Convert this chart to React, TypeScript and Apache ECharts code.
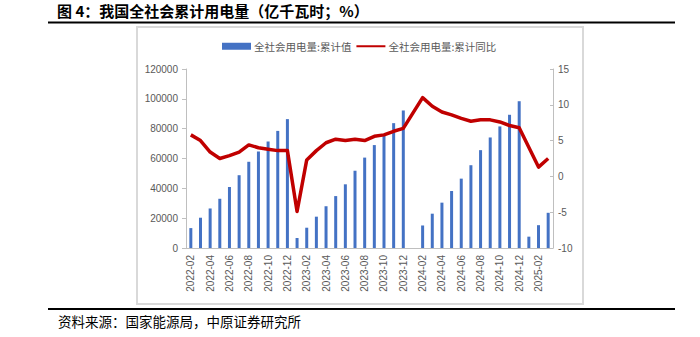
import React, { useEffect, useRef } from "react";
import * as echarts from "echarts";

const months = [
  "2022-02", "2022-03", "2022-04", "2022-05", "2022-06", "2022-07", "2022-08", "2022-09", "2022-10", "2022-11", "2022-12",
  "2023-01", "2023-02", "2023-03", "2023-04", "2023-05", "2023-06", "2023-07", "2023-08", "2023-09", "2023-10", "2023-11", "2023-12",
  "2024-01", "2024-02", "2024-03", "2024-04", "2024-05", "2024-06", "2024-07", "2024-08", "2024-09", "2024-10", "2024-11", "2024-12",
  "2025-01", "2025-02", "2025-03",
];

// 全社会用电量:累计值 (亿千瓦时)
const cumulativeValue: (number | null)[] = [
  13346, 20300, 26500, 33000, 40900, 48800, 57800, 64700, 71400, 78500, 86400,
  6700, 13600, 21000, 28000, 34800, 42700, 51800, 60600, 69000, 75700, 83700, 92200,
  null, 15100, 23000, 30400, 38200, 46500, 55500, 65600, 74100, 81500, 89300, 98400,
  7600, 15300, 23600,
];

// 全社会用电量:累计同比 (%)
const cumulativeYoY: (number | null)[] = [
  5.8, 5.0, 3.4, 2.5, 2.9, 3.4, 4.4, 4.0, 3.8, 3.6, 3.6,
  -4.9, 2.3, 3.6, 4.7, 5.2, 5.0, 5.2, 5.0, 5.6, 5.8, 6.3, 6.7,
  null, 11.0, 9.8, 9.0, 8.6, 8.1, 7.7, 7.9, 7.9, 7.6, 7.1, 6.8,
  null, 1.3, 2.5,
];

const leftAxis = { min: 0, max: 120000, interval: 20000 };
const rightAxis = { min: -10, max: 15, interval: 5 };

const titleText = "图 4：我国全社会累计用电量（亿千瓦时；%）";
const sourceText = "资料来源：国家能源局，中原证券研究所";
const seriesNames = ["全社会用电量:累计值", "全社会用电量:累计同比"];

export default function App() {
  const ref = useRef<HTMLDivElement>(null);
  useEffect(() => {
    if (!ref.current) return;
    const chart = echarts.init(ref.current, null, { renderer: "svg" });
    const axisColor = "#bfbfbf";
    const labelColor = "#595959";
    const cjk = "'Noto Sans CJK SC', 'Noto Sans', sans-serif";
    const num = "'Liberation Sans', Arial, sans-serif";
    chart.setOption({
      animation: false,
      backgroundColor: "#ffffff",
      title: {
        text: titleText,
        left: 57,
        top: 3,
        padding: 0,
        textStyle: { fontFamily: cjk, fontSize: 15, fontWeight: "bold", color: "#000" },
      },
      graphic: [
        { type: "line", shape: { x1: 48, y1: 22.5, x2: 675, y2: 22.5 }, style: { stroke: "#000", lineWidth: 2 } },
        { type: "rect", shape: { x: 137, y: 27, width: 446, height: 277 }, style: { fill: "none", stroke: "#d9d9d9", lineWidth: 2 } },
        { type: "line", shape: { x1: 48, y1: 309, x2: 675, y2: 309 }, style: { stroke: "#000", lineWidth: 2 } },
        {
          type: "text",
          left: 58,
          top: 314,
          style: { text: sourceText, fontFamily: cjk, fontSize: 13.5, fill: "#000" },
        },
      ],
      legend: {
        left: 222,
        top: 41,
        padding: 0,
        itemGap: 4,
        itemWidth: 29,
        itemHeight: 7,
        textStyle: { fontFamily: cjk, fontSize: 10.5, color: labelColor, padding: [0, 0, 0, -2] },
        data: [
          { name: seriesNames[0], icon: "rect" },
          { name: seriesNames[1], itemStyle: { opacity: 0 } },
        ],
      },
      grid: { left: 186, right: 147, top: 69, bottom: 89, containLabel: false },
      xAxis: {
        type: "category",
        data: months,
        axisLine: { show: true, lineStyle: { color: axisColor, width: 1 } },
        axisTick: { show: false },
        axisLabel: {
          interval: 1,
          rotate: 90,
          margin: 7,
          fontFamily: num,
          fontSize: 10,
          color: labelColor,
        },
      },
      yAxis: [
        {
          type: "value",
          min: leftAxis.min,
          max: leftAxis.max,
          interval: leftAxis.interval,
          splitLine: { show: false },
          axisLine: { show: true, lineStyle: { color: axisColor, width: 1 } },
          axisTick: { show: true, length: 4, lineStyle: { color: axisColor } },
          axisLabel: {
            margin: 8,
            fontFamily: num,
            fontSize: 10,
            color: labelColor,
            formatter: (v: number) => String(v),
          },
        },
        {
          type: "value",
          min: rightAxis.min,
          max: rightAxis.max,
          interval: rightAxis.interval,
          splitLine: { show: false },
          axisLine: { show: true, lineStyle: { color: axisColor, width: 1 } },
          axisTick: { show: true, inside: true, length: 3, lineStyle: { color: axisColor } },
          axisLabel: { margin: 5, fontFamily: num, fontSize: 10, color: labelColor },
        },
      ],
      series: [
        {
          name: seriesNames[0],
          type: "bar",
          data: cumulativeValue,
          barWidth: 3,
          itemStyle: { color: "#4472C4" },
        },
        {
          name: seriesNames[1],
          type: "line",
          yAxisIndex: 1,
          data: cumulativeYoY,
          connectNulls: true,
          symbol: "none",
          smooth: false,
          lineStyle: { color: "#C00000", width: 3.5, join: "round" },
          itemStyle: { color: "#C00000" },
        },
      ],
    });
    return () => chart.dispose();
  }, []);
  return (
    <div
      ref={ref}
      style={{ position: "fixed", left: 0, top: 0, width: 700, height: 337, background: "#fff" }}
    />
  );
}
